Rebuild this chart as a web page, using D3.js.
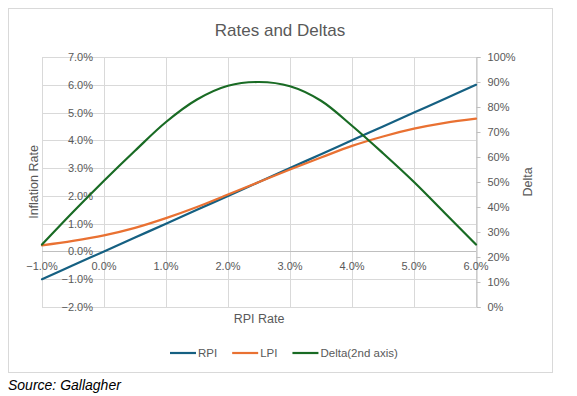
<!DOCTYPE html>
<html>
<head>
<meta charset="utf-8">
<script src="https://cdn.jsdelivr.net/npm/d3@7"></script>
<style>
  body { margin: 0; background: #fff; }
  text { font-family: "Liberation Sans", Arial, sans-serif; fill: #595959; }
  .grid line { stroke: #d9d9d9; stroke-width: 1; }
  .source { font-style: italic; fill: #000; }
</style>
</head>
<body>
<div id="chart"></div>
<script>
/*******************************************************
 *                      DATA                           *
 ******************************************************/
var rpiRate  = [-1, -0.5, 0, 0.5, 1, 1.5, 2, 2.5, 3, 3.5, 4, 4.5, 5, 5.5, 6];   // x, in %
var rpi      = [-1, -0.5, 0, 0.5, 1, 1.5, 2, 2.5, 3, 3.5, 4, 4.5, 5, 5.5, 6];   // %
var lpi      = [0.22, 0.38, 0.58, 0.85, 1.2, 1.6, 2.05, 2.5, 2.95, 3.38, 3.8, 4.14, 4.42, 4.63, 4.78];
var delta    = [25, 38, 50.5, 62.5, 74, 83, 88.5, 90, 88.3, 82.5, 72.5, 61.5, 50, 37.5, 25]; // 2nd axis, %

var xTicks     = [-1, 0, 1, 2, 3, 4, 5, 6];
var yTicks     = [-2, -1, 0, 1, 2, 3, 4, 5, 6, 7];
var deltaTicks = [0, 10, 20, 30, 40, 50, 60, 70, 80, 90, 100];

var seriesNames  = ["RPI", "LPI", "Delta(2nd axis)"];
var seriesColors = ["#156082", "#E97132", "#196B24"];

/*******************************************************
 *                      LAYOUT                         *
 ******************************************************/
var W = 577, H = 396;
var plot = {left: 42, right: 476, top: 57, bottom: 307};

var svg = d3.select("#chart").append("svg")
            .attr("width", W)
            .attr("height", H);

// chart frame
svg.append("rect")
   .attr("x", 8.5).attr("y", 8.5)
   .attr("width", 544).attr("height", 364)
   .attr("fill", "#fff")
   .attr("stroke", "#d9d9d9");

var x = d3.scaleLinear().domain([-1, 6]).range([plot.left, plot.right]);
var y = d3.scaleLinear().domain([-2, 7]).range([plot.bottom, plot.top]);
var y2 = d3.scaleLinear().domain([0, 100]).range([plot.bottom, plot.top]);

var pct1 = function(d) { return d3.format(".1f")(d) + "%"; };

// gridlines
var grid = svg.append("g").attr("class", "grid");
grid.selectAll(".h").data(yTicks).enter().append("line")
    .attr("x1", plot.left).attr("x2", plot.right)
    .attr("y1", function(d) { return Math.round(y(d)) + 0.5; })
    .attr("y2", function(d) { return Math.round(y(d)) + 0.5; });
grid.selectAll(".v").data(xTicks).enter().append("line")
    .attr("y1", plot.top).attr("y2", plot.bottom)
    .attr("x1", function(d) { return Math.round(x(d)) + 0.5; })
    .attr("x2", function(d) { return Math.round(x(d)) + 0.5; });

// axis lines (zero line, right axis)
svg.append("line")
   .attr("x1", plot.left).attr("x2", plot.right)
   .attr("y1", Math.round(y(0)) + 0.5).attr("y2", Math.round(y(0)) + 0.5)
   .attr("stroke", "#bfbfbf");

var rightAxis = svg.append("g")
   .attr("transform", "translate(" + (Math.round(plot.right) + 0.5) + ",0)")
   .call(d3.axisRight(y2).tickValues(deltaTicks).tickSize(4).tickPadding(7)
           .tickFormat(function(d) { return d + "%"; }));
rightAxis.select(".domain").attr("stroke", "#bfbfbf");
rightAxis.selectAll(".tick line").attr("stroke", "#bfbfbf");
rightAxis.selectAll("text").attr("fill", "#595959").style("font-size", "11px")
         .style("font-family", "Liberation Sans, Arial, sans-serif");

// left axis labels, sitting inside like the original
svg.append("g").selectAll("text").data(yTicks).enter().append("text")
   .attr("x", 93)
   .attr("y", function(d) { return y(d); })
   .attr("dy", "0.36em")
   .attr("text-anchor", "end")
   .style("font-size", "11px")
   .text(pct1);

// x axis labels, below zero line
svg.append("g").selectAll("text").data(xTicks).enter().append("text")
   .attr("x", function(d) { return x(d); })
   .attr("y", y(0) + 15)
   .attr("dy", "0.36em")
   .attr("text-anchor", "middle")
   .style("font-size", "11px")
   .text(pct1);

// titles
svg.append("text")
   .attr("x", 280).attr("y", 36)
   .attr("text-anchor", "middle")
   .style("font-size", "17px")
   .text("Rates and Deltas");

svg.append("text")
   .attr("transform", "translate(38," + (plot.top + plot.bottom) / 2 + ") rotate(-90)")
   .attr("text-anchor", "middle")
   .style("font-size", "12.5px")
   .text("Inflation Rate");

svg.append("text")
   .attr("transform", "translate(532," + (plot.top + plot.bottom) / 2 + ") rotate(-90)")
   .attr("text-anchor", "middle")
   .style("font-size", "12.5px")
   .text("Delta");

svg.append("text")
   .attr("x", 259).attr("y", 323)
   .attr("text-anchor", "middle")
   .style("font-size", "12.5px")
   .text("RPI Rate");

/*******************************************************
 *                      LINES                          *
 ******************************************************/
var line = d3.line()
             .curve(d3.curveCatmullRom)
             .x(function(d) { return x(d[0]); })
             .y(function(d) { return d[1]; });

var series = [
  rpiRate.map(function(r, i) { return [r, y(rpi[i])]; }),
  rpiRate.map(function(r, i) { return [r, y(lpi[i])]; }),
  rpiRate.map(function(r, i) { return [r, y2(delta[i])]; })
];

svg.append("g").selectAll("path").data(series).enter().append("path")
   .attr("d", line)
   .attr("fill", "none")
   .attr("stroke", function(d, i) { return seriesColors[i]; })
   .attr("stroke-width", 2.2)
   .attr("stroke-linecap", "round");

/*******************************************************
 *                      LEGEND                         *
 ******************************************************/
var legend = svg.append("g").attr("transform", "translate(0,353)");
var lx = 170;
seriesNames.forEach(function(name, i) {
  legend.append("line")
        .attr("x1", lx).attr("x2", lx + 26)
        .attr("y1", 0).attr("y2", 0)
        .attr("stroke", seriesColors[i])
        .attr("stroke-width", 2.2);
  var t = legend.append("text")
        .attr("x", lx + 28).attr("y", 0)
        .attr("dy", "0.36em")
        .style("font-size", "11.5px")
        .text(name);
  lx += 28 + t.node().getComputedTextLength() + 15;
});

// source note
svg.append("text")
   .attr("class", "source")
   .attr("x", 8).attr("y", 390)
   .style("font-size", "14px")
   .text("Source: Gallagher");
</script>
</body>
</html>
